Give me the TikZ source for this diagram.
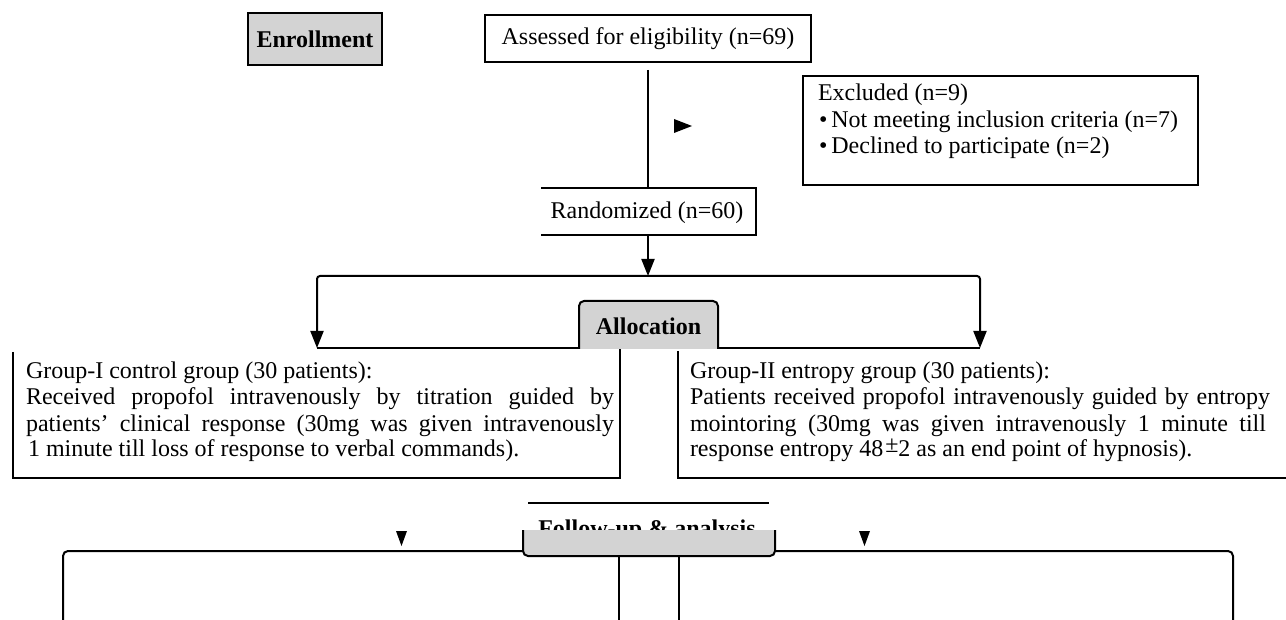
\documentclass[tikz,border=0pt]{standalone}
\usepackage{fontspec}
\setmainfont{Liberation Serif}
\usetikzlibrary{arrows.meta}
\definecolor{boxgray}{RGB}{211,211,211}
\tikzset{
  txt/.style={inner sep=0pt, anchor=base west, font=\fontsize{12pt}{13.5pt}\selectfont},
  ctxt/.style={inner sep=0pt, anchor=base, font=\fontsize{12pt}{13.5pt}\selectfont},
  btxt/.style={inner sep=0pt, anchor=base, font=\fontsize{12pt}{13.5pt}\selectfont\bfseries},
  arr/.style={-{Triangle[length=8.5pt,width=6.5pt]}},
  tri/.style={fill=black, draw=none},
  graybox/.style={draw, fill=boxgray},
}
\begin{document}
\begin{tikzpicture}[x=0.5pt,y=-0.5pt,line width=1pt]
\useasboundingbox (0,0) rectangle (1286,620);
\fill[white] (0,0) rectangle (1286,620);

% Enrollment
\node[graybox, minimum width=67pt, minimum height=26pt, inner sep=0pt,
      font=\fontsize{12pt}{13.5pt}\selectfont\bfseries] (enr) at (315,39) {Enrollment};

% Assessed
\node[draw, minimum width=163pt, minimum height=23.5pt, inner sep=0pt,
      font=\fontsize{12pt}{13.5pt}\selectfont] (ass) at (648,38.5) {Assessed for eligibility (n=69)};

% Excluded
\draw (803,76) rectangle (1198,185);
\node[txt] (ex1) at (817,101) {Excluded (n=9)};
\node[txt] (ex2) at (818,128) {•\hspace{2pt}Not meeting inclusion criteria (n=7)};
\node[txt] (ex3) at (818,154) {•\hspace{2pt}Declined to participate (n=2)};

% floating arrowhead
\fill[tri] (674,119) -- (674,133) -- (692,126) -- cycle;

% Randomized
\draw (541,188) -- (756,188) -- (756,235) -- (541,235);
\node[ctxt] (rand) at (647,219) {Randomized (n=60)};

\coordinate (a1) at (648,70);
\coordinate (r1) at (648,188);
\coordinate (r2) at (648,235);
\coordinate (sp) at (648,276);
\coordinate (gl) at (317,348);
\coordinate (gr) at (980,348);
\draw (a1) -- (r1);
\draw[arr] (r2) -- (sp);
\draw[arr, rounded corners=1.5pt] (sp) -| (gl);
\draw[arr, rounded corners=1.5pt] (sp) -| (gr);

% Group boxes
\draw (13,352) -- (13,478) -- (620,478) -- (620,348);
\draw (317,348) -- (579,348);
\draw (678,351) -- (678,478) -- (1286,478);
\draw (718,348) -- (980,348);

% Allocation
\filldraw[fill=boxgray, rounded corners=2.5pt] (579,349) -- (579,301) -- (718,301) -- (718,349);
\node[btxt] (alloc) at (648.5,335) {Allocation};

% Group texts
\node[txt] (g1a) at (25,379) {Group-I control group (30 patients):};
\node[txt] (g1b) at (25,405) {\makebox[294pt][s]{Received propofol intravenously by titration guided by}};
\node[txt] (g1c) at (25,431) {\makebox[294pt][s]{patients’ clinical response (30mg was given intravenously}};
\node[txt] (g1d) at (27,457) {1 minute till loss of response to verbal commands).};

\node[txt] (g2a) at (689,379) {Group-II entropy group (30 patients):};
\node[txt] (g2b) at (689,405) {\makebox[290pt][s]{Patients received propofol intravenously guided by entropy}};
\node[txt] (g2c) at (689,431) {\makebox[288pt][s]{mointoring (30mg was given intravenously 1 minute till}};
\node[txt] (g2d) at (689,457) {response entropy 48\hspace{1pt}\raisebox{2pt}{±}2 as an end point of hypnosis).};

% Follow-up
\draw (528,503) -- (769,503);
\node[btxt] (fu) at (647,536) {Follow-up \& analysis};

% bottom boxes
\draw[rounded corners=2.5pt] (63,620) -- (63,551) -- (523,551);
\draw (619,556) -- (619,620);
\draw (679,556) -- (679,620);
\draw[rounded corners=2.5pt] (775,551) -- (1233,551) -- (1233,620);

\filldraw[fill=boxgray, rounded corners=2.5pt] (523,530) -- (523,556) -- (775,556) -- (775,530);

% floating down arrowheads
\fill[tri] (396,531) -- (407,531) -- (401.5,546) -- cycle;
\fill[tri] (859,531) -- (870,531) -- (864.5,546) -- cycle;
\end{tikzpicture}
\end{document}
